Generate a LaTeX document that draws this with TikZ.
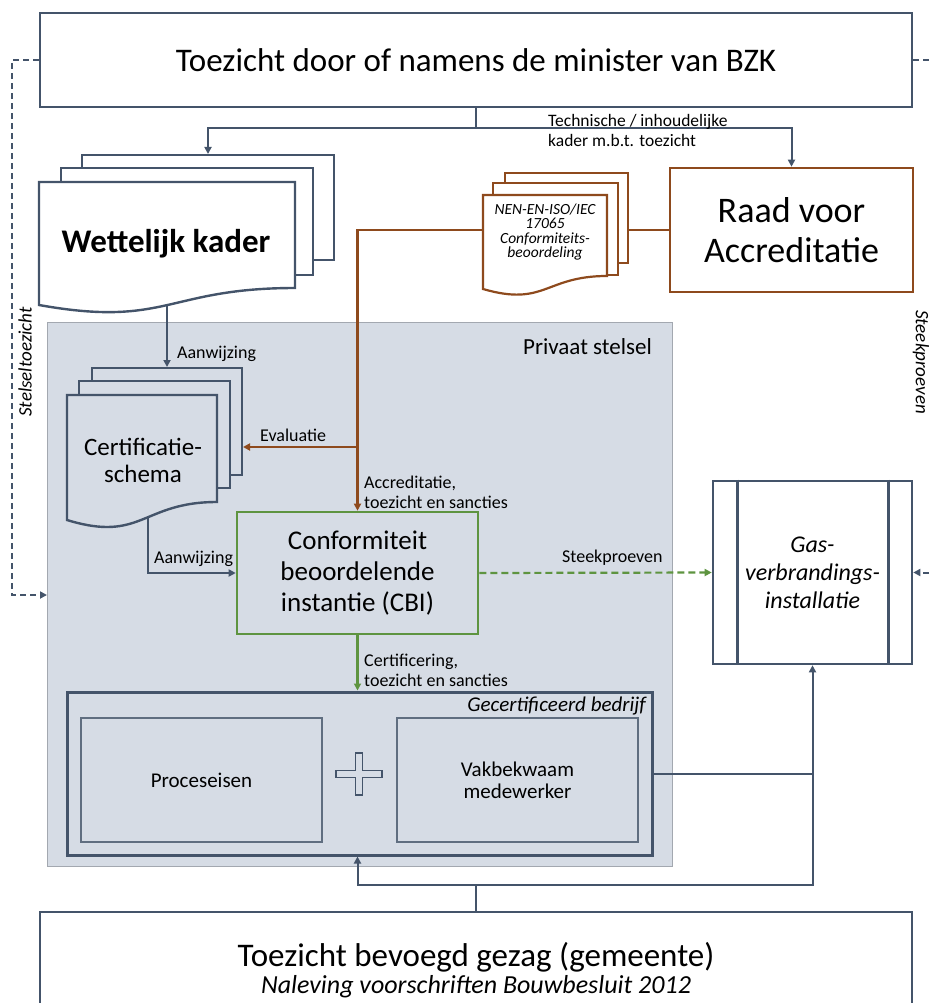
\documentclass[tikz,border=0pt]{standalone}
\usepackage{fontspec}
\setmainfont{Carlito}
\usetikzlibrary{arrows.meta,positioning}

\definecolor{leisteen}{HTML}{44546A}
\definecolor{bruin}{HTML}{8E4A1D}
\definecolor{groen}{HTML}{5E9440}
\definecolor{privaatblauw}{HTML}{D6DCE5}
\definecolor{randgrijs}{HTML}{A3A8B0}

\tikzset{
  lijn/.style={draw=leisteen, line width=2pt},
  pijl/.style={lijn, -{Triangle[length=7pt,width=7pt]}},
  bruinlijn/.style={draw=bruin, line width=2.4pt},
  bruinpijl/.style={bruinlijn, -{Triangle[length=7pt,width=7pt]}},
  groenpijl/.style={draw=groen, line width=2.2pt, -{Triangle[length=7pt,width=7pt]}},
  groenstreep/.style={groenpijl, dash pattern=on 7pt off 4pt},
  streeppijl/.style={pijl, dash pattern=on 6pt off 4pt},
  kader/.style={draw=leisteen, line width=2.6pt, fill=white, align=center, inner sep=0pt},
  blad/.style={draw=leisteen, line width=2.4pt, fill=white},
  bruinblad/.style={draw=bruin, line width=2.2pt, fill=white},
  bijschrift/.style={font=\fontsize{18}{20}\selectfont, align=left, inner sep=0pt},
}

\begin{document}
\begin{tikzpicture}[x=1pt, y=-1pt]
  \useasboundingbox (0,0) rectangle (930,1003);

  % Privaat stelsel
  \node[draw=randgrijs, line width=1pt, fill=privaatblauw, minimum width=625pt, minimum height=544pt, inner sep=0pt] (privaat) at (359.5,594) {};
  \node[font=\fontsize{23}{24}\selectfont, anchor=east, inner sep=0pt] (privaatnaam) at (652,347) {Privaat stelsel};

  % Minister
  \node[kader, minimum width=872pt, minimum height=94pt, font=\fontsize{33}{36}\selectfont] (bzk) at (476,60) {Toezicht door of namens de minister van BZK};

  % Raad voor Accreditatie
  \node[kader, draw=bruin, minimum width=243pt, minimum height=124pt, font=\fontsize{36}{40}\selectfont] (raad) at (791.5,230) {Raad voor\\Accreditatie};

  % Wettelijk kader
  \filldraw[blad] (82,155) rectangle (334,260);
  \filldraw[blad] (61,168) rectangle (313,275);
  \filldraw[blad] (39,182) -- (295,182) -- (295,288) .. controls (167,288) and (167,328) .. (39,305) -- cycle;
  \node[font=\bfseries\fontsize{33}{36}\selectfont] (wettelijk) at (166,244) {Wettelijk kader};
  \coordinate (wk-boven) at (208,154);
  \coordinate (wk-onder) at (167,305);

  % NEN-EN-ISO/IEC 17065
  \filldraw[bruinblad] (505,173) rectangle (628,263);
  \filldraw[bruinblad] (493,183) rectangle (618,275);
  \filldraw[bruinblad] (483,195) -- (607,195) -- (607,276) .. controls (545,276) and (545,307) .. (483,289) -- cycle;
  \node[font=\itshape\fontsize{15.5}{14.5}\selectfont, align=center] (nen) at (545,232) {NEN-EN-ISO/IEC\\17065\\Conformiteits-\\beoordeling};
  \coordinate (nen-links) at (483,230);
  \coordinate (nen-rechts) at (628,230);

  % Certificatieschema
  \filldraw[blad, fill=privaatblauw] (92,368) rectangle (242,475);
  \filldraw[blad, fill=privaatblauw] (79,381) rectangle (230,488);
  \filldraw[blad, fill=privaatblauw] (67,395) -- (217,395) -- (217,502) .. controls (142,502) and (142,543) .. (67,520) -- cycle;
  \node[font=\fontsize{25}{27}\selectfont, align=center] (schema) at (143,460) {Certificatie-\\schema};
  \coordinate (cs-boven) at (167,367);
  \coordinate (cs-rechts) at (243,447);
  \coordinate (cs-onder) at (148,517);

  % CBI
  \node[kader, draw=groen, fill=privaatblauw, minimum width=241pt, minimum height=122pt, font=\fontsize{27}{31}\selectfont] (cbi) at (357.5,573) {Conformiteit\\beoordelende\\instantie (CBI)};

  % Gasverbrandingsinstallatie
  \node[kader, minimum width=199pt, minimum height=183pt, font=\itshape\fontsize{24}{28}\selectfont] (gas) at (812.5,572.5) {Gas-\\verbrandings-\\installatie};
  \draw[lijn, line width=2.6pt] ([xshift=26pt]gas.north west) -- ([xshift=26pt]gas.south west);
  \draw[lijn, line width=2.6pt] ([xshift=-25pt]gas.north east) -- ([xshift=-25pt]gas.south east);

  % Gecertificeerd bedrijf
  \node[kader, fill=none, line width=3pt, minimum width=585pt, minimum height=163pt] (bedrijf) at (359.5,773.5) {};
  \node[font=\itshape\fontsize{21}{24}\selectfont, anchor=east, inner sep=0pt] (bedrijfnaam) at (646,706) {Gecertificeerd bedrijf};
  \node[draw=leisteen!85, line width=1.2pt, minimum width=241pt, minimum height=124pt, font=\fontsize{21}{22}\selectfont] (proces) at (201.5,780) {Proceseisen};
  \node[draw=leisteen!85, line width=1.2pt, minimum width=241pt, minimum height=124pt, font=\fontsize{21}{22}\selectfont, align=center] (vakman) at (517.5,780) {Vakbekwaam\\medewerker};
  \begin{scope}[shift={(359,774)}]
    \draw[leisteen, line width=1.6pt, fill=privaatblauw] (-23,-3.5) -- (-3.5,-3.5) -- (-3.5,-21) -- (3.5,-21) -- (3.5,-3.5) -- (23,-3.5) -- (23,3.5) -- (3.5,3.5) -- (3.5,21) -- (-3.5,21) -- (-3.5,3.5) -- (-23,3.5) -- cycle;
  \end{scope}

  % Gemeente
  \node[kader, minimum width=872pt, minimum height=120pt] (gemeente) at (476,972) {};
  \node[font=\fontsize{33}{36}\selectfont, anchor=base] (gemeentetitel) at (476,966) {Toezicht bevoegd gezag (gemeente)};
  \node[font=\itshape\fontsize{26}{30}\selectfont, anchor=base] (gemeentesub) at (476,993) {Naleving voorschriften Bouwbesluit 2012};

  % Verbindingen
  \coordinate (splits) at (476,128);
  \draw[lijn] (bzk.south) -- (splits);
  \draw[pijl] (splits) -| (wk-boven);
  \draw[pijl] (splits) -| (raad.north);
  \node[bijschrift, font=\fontsize{17.5}{20}\selectfont, anchor=west] (technisch) at (548,130) {Technische / inhoudelijke\\kader m.b.t. toezicht};

  \draw[pijl] (wk-onder) -- (cs-boven);
  \node[bijschrift, anchor=west] (aanwijzing1) at (177,354) {Aanwijzing};

  \draw[bruinlijn] (nen-rechts) -- (raad.west);
  \draw[bruinpijl] (nen-links) -| (cbi.north);
  \draw[bruinpijl] (cbi.north |- cs-rechts) -- (cs-rechts);
  \node[bijschrift, anchor=west] (evaluatie) at (260,435) {Evaluatie};
  \node[bijschrift, anchor=west] (accreditatie) at (364,492) {Accreditatie,\\toezicht en sancties};

  \draw[pijl] (cs-onder) |- (cbi.west);
  \node[bijschrift, anchor=west] (aanwijzing2) at (154,559) {Aanwijzing};

  \draw[groenstreep] (cbi.east) -- (gas.west);
  \node[bijschrift, anchor=west] (steekproeven) at (562,558) {Steekproeven};

  \draw[groenpijl] (cbi.south) -- (cbi.south |- bedrijf.north);
  \node[bijschrift, anchor=west] (certificering) at (364,670) {Certificering,\\toezicht en sancties};

  \draw[pijl] (bedrijf.east) -| (gas.south);
  \coordinate (gem-splits) at (476,885);
  \draw[lijn] (gemeente.north) -- (gem-splits);
  \draw[pijl] (gem-splits) -| (cbi.south |- bedrijf.south);
  \draw[lijn] (gem-splits) -| (gas.south |- bedrijf.east);

  % Stelseltoezicht en steekproeven door de minister
  \coordinate (stl-hoek) at (12,60);
  \coordinate (stl-eind) at (47,595);
  \draw[streeppijl] (bzk.west) -- (stl-hoek) |- (stl-eind);
  \node[bijschrift, font=\itshape\fontsize{19}{20}\selectfont, rotate=90] (stelsel) at (25,362) {Stelseltoezicht};
  \coordinate (stp-hoek) at (950,60);
  \draw[streeppijl] (bzk.east) -- (stp-hoek) |- (gas.east);
  \node[bijschrift, font=\itshape\fontsize{19}{20}\selectfont, rotate=-90] (steekproef) at (921,362) {Steekproeven};
\end{tikzpicture}
\end{document}
